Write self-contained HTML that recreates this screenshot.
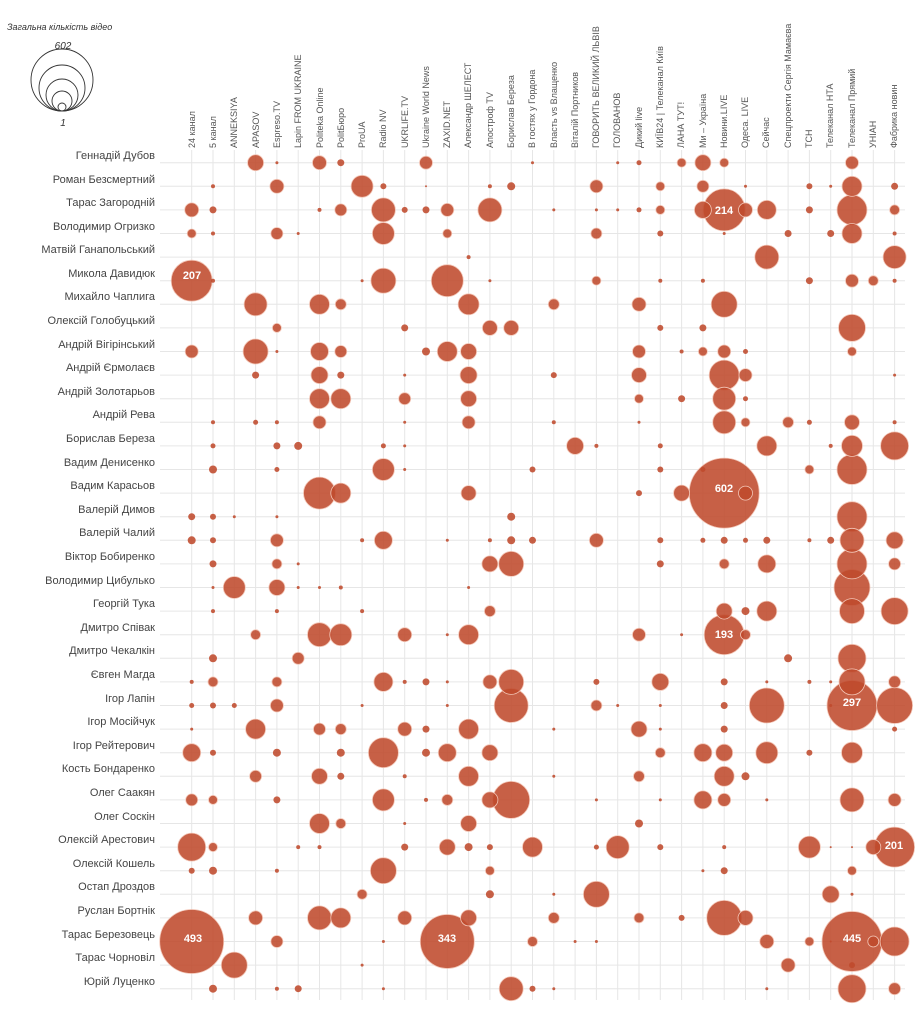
<!DOCTYPE html>
<html><head><meta charset="utf-8"><style>
html,body{margin:0;padding:0;background:#fff;}
svg{display:block;font-family:"Liberation Sans",sans-serif;}
.rl{font-size:11px;fill:#444;text-anchor:end;}
.cl{font-size:9px;fill:#555;}
.bl{font-size:11px;fill:#fff;text-anchor:middle;font-weight:bold;}
</style></head><body>
<svg id="s" width="919" height="1015" viewBox="0 0 919 1015" xmlns="http://www.w3.org/2000/svg">
<g id="grid" stroke="#e6e6e6" stroke-width="1"></g>
<text x="7" y="30" font-size="9" font-style="italic" fill="#333">Загальна кількість відео</text>
<g fill="none" stroke="#333" stroke-width="0.9">
<circle cx="62" cy="80" r="31"/><circle cx="62" cy="88" r="23"/><circle cx="62" cy="95" r="16"/><circle cx="62" cy="101" r="10"/><circle cx="62" cy="107" r="4"/>
</g>
<text x="63" y="49" font-size="10" font-style="italic" text-anchor="middle" fill="#333">602</text>
<text x="63" y="126" font-size="10" font-style="italic" text-anchor="middle" fill="#333">1</text>
<g id="cols"></g>
<g>
<text class="rl" x="155" y="159">Геннадій Дубов</text>
<text class="rl" x="155" y="183">Роман Безсмертний</text>
<text class="rl" x="155" y="206">Тарас Загородній</text>
<text class="rl" x="155" y="230">Володимир Огризко</text>
<text class="rl" x="155" y="253">Матвій Ганапольський</text>
<text class="rl" x="155" y="277">Микола Давидюк</text>
<text class="rl" x="155" y="300">Михайло Чаплига</text>
<text class="rl" x="155" y="324">Олексій Голобуцький</text>
<text class="rl" x="155" y="348">Андрій Вігірінський</text>
<text class="rl" x="155" y="371">Андрій Єрмолаєв</text>
<text class="rl" x="155" y="395">Андрій Золотарьов</text>
<text class="rl" x="155" y="418">Андрій Рева</text>
<text class="rl" x="155" y="442">Борислав Береза</text>
<text class="rl" x="155" y="466">Вадим Денисенко</text>
<text class="rl" x="155" y="489">Вадим Карасьов</text>
<text class="rl" x="155" y="513">Валерій Димов</text>
<text class="rl" x="155" y="536">Валерій Чалий</text>
<text class="rl" x="155" y="560">Віктор Бобиренко</text>
<text class="rl" x="155" y="584">Володимир Цибулько</text>
<text class="rl" x="155" y="607">Георгій Тука</text>
<text class="rl" x="155" y="631">Дмитро Співак</text>
<text class="rl" x="155" y="654">Дмитро Чекалкін</text>
<text class="rl" x="155" y="678">Євген Магда</text>
<text class="rl" x="155" y="702">Ігор Лапін</text>
<text class="rl" x="155" y="725">Ігор Мосійчук</text>
<text class="rl" x="155" y="749">Ігор Рейтерович</text>
<text class="rl" x="155" y="772">Кость Бондаренко</text>
<text class="rl" x="155" y="796">Олег Саакян</text>
<text class="rl" x="155" y="820">Олег Соскін</text>
<text class="rl" x="155" y="843">Олексій Арестович</text>
<text class="rl" x="155" y="867">Олексій Кошель</text>
<text class="rl" x="155" y="890">Остап Дроздов</text>
<text class="rl" x="155" y="914">Руслан Бортнік</text>
<text class="rl" x="155" y="938">Тарас Березовець</text>
<text class="rl" x="155" y="961">Тарас Чорновіл</text>
<text class="rl" x="155" y="985">Юрій Луценко</text>
</g>
<g>
<text class="cl" transform="translate(195,148) rotate(-90)">24 канал</text>
<text class="cl" transform="translate(216,148) rotate(-90)">5 канал</text>
<text class="cl" transform="translate(237,148) rotate(-90)">ANNEKSIYA</text>
<text class="cl" transform="translate(259,148) rotate(-90)">APASOV</text>
<text class="cl" transform="translate(280,148) rotate(-90)">Espreso.TV</text>
<text class="cl" transform="translate(301,148) rotate(-90)">Lapin FROM UKRAINE</text>
<text class="cl" transform="translate(323,148) rotate(-90)">Politeka Online</text>
<text class="cl" transform="translate(344,148) rotate(-90)">PolitБюро</text>
<text class="cl" transform="translate(365,148) rotate(-90)">ProUA</text>
<text class="cl" transform="translate(386,148) rotate(-90)">Radio NV</text>
<text class="cl" transform="translate(408,148) rotate(-90)">UKRLIFE.TV</text>
<text class="cl" transform="translate(429,148) rotate(-90)">Ukraine World News</text>
<text class="cl" transform="translate(450,148) rotate(-90)">ZAXID.NET</text>
<text class="cl" transform="translate(471,148) rotate(-90)">Александр ШЕЛЕСТ</text>
<text class="cl" transform="translate(493,148) rotate(-90)">Апостроф TV</text>
<text class="cl" transform="translate(514,148) rotate(-90)">Борислав Береза</text>
<text class="cl" transform="translate(535,148) rotate(-90)">В гостях у Гордона</text>
<text class="cl" transform="translate(557,148) rotate(-90)">Власть vs Влащенко</text>
<text class="cl" transform="translate(578,148) rotate(-90)">Віталій Портников</text>
<text class="cl" transform="translate(599,148) rotate(-90)">ГОВОРИТЬ ВЕЛИКИЙ ЛЬВІВ</text>
<text class="cl" transform="translate(620,148) rotate(-90)">ГОЛОВАНОВ</text>
<text class="cl" transform="translate(642,148) rotate(-90)">Дикий live</text>
<text class="cl" transform="translate(663,148) rotate(-90)">КИЇВ24 | Телеканал Київ</text>
<text class="cl" transform="translate(684,148) rotate(-90)">ЛАНА ТУТ!</text>
<text class="cl" transform="translate(706,148) rotate(-90)">Ми – Україна</text>
<text class="cl" transform="translate(727,148) rotate(-90)">Новини.LIVE</text>
<text class="cl" transform="translate(748,148) rotate(-90)">Одеса. LIVE</text>
<text class="cl" transform="translate(769,148) rotate(-90)">Сейчас</text>
<text class="cl" transform="translate(791,148) rotate(-90)">Спецпроекти Сергія Мамаєва</text>
<text class="cl" transform="translate(812,148) rotate(-90)">ТСН</text>
<text class="cl" transform="translate(833,148) rotate(-90)">Телеканал НТА</text>
<text class="cl" transform="translate(855,148) rotate(-90)">Телеканал Прямий</text>
<text class="cl" transform="translate(876,148) rotate(-90)">УНІАН</text>
<text class="cl" transform="translate(897,148) rotate(-90)">Фабрика новин</text>
</g>
<g id="bub"></g>
<g>
<text class="bl" x="192" y="279">207</text>
<text class="bl" x="724" y="214">214</text>
<text class="bl" x="724" y="492">602</text>
<text class="bl" x="724" y="638">193</text>
<text class="bl" x="852" y="706">297</text>
<text class="bl" x="894" y="849">201</text>
<text class="bl" x="193" y="942">493</text>
<text class="bl" x="447" y="942">343</text>
<text class="bl" x="852" y="942">445</text>
</g>
</svg>
<script>
var NS="http://www.w3.org/2000/svg";
function X(c){return 191.7+c*21.3;}function Y(r){return 162.7+r*23.6;}
var g=document.getElementById("grid");
for(var r=0;r<36;r++){var l=document.createElementNS(NS,"line");l.setAttribute("x1",160);l.setAttribute("x2",905);l.setAttribute("y1",Y(r));l.setAttribute("y2",Y(r));g.appendChild(l);}
for(var c=0;c<34;c++){var l=document.createElementNS(NS,"line");l.setAttribute("x1",X(c));l.setAttribute("x2",X(c));l.setAttribute("y1",150);l.setAttribute("y2",1000);g.appendChild(l);}
var D=[
"3:8,4:1.5,6:7,7:3.5,11:6.5,16:1.5,20:1.5,21:2.5,23:4.5,24:8,25:4.5,31:6.5",
"1:2,4:7,8:11,9:3,11:1,14:2,15:4,19:6.5,22:4.5,24:6,26:1.5,29:3,30:1.5,31:10,33:3.5",
"0:7,1:3.5,6:2,7:6,9:12,10:3,11:3.5,12:6.5,14:12,17:1.5,19:1.5,20:1.5,21:2.5,22:4.5,24:8.5,25:21,26:7,27:9.5,29:3.5,31:15,33:5",
"0:4.5,1:2,4:6,5:1.5,9:11,12:4.5,19:5.5,22:3,25:1.5,28:3.5,30:3.5,31:10,33:2",
"13:2,27:12,33:11.5",
"0:20.5,1:2,8:1.5,9:12.5,12:16,14:1.5,19:4.5,22:2,24:2,29:3.5,31:6.5,32:5,33:2",
"3:11.5,6:10,7:5.5,13:10.5,17:5.5,21:7,25:13",
"4:4.5,10:3.5,14:7.5,15:7.5,22:3,24:3.5,31:13.5",
"0:6.5,3:12.5,4:1.5,6:9,7:6,11:4,12:10,13:8,21:6.5,23:2,24:4.5,25:6.5,26:2.5,31:4.5",
"3:3.5,6:8.5,7:3.5,10:1.5,13:8.5,17:3,21:7.5,25:15,26:6.5,33:1.5",
"6:10,7:10,10:6,13:8,21:4.5,23:3.5,25:11.5,26:2.5",
"1:2,3:2.5,4:2,6:6.5,10:1.5,13:6.5,17:2,21:1.5,25:11.5,26:4.5,28:5.5,29:2.5,31:7.5,33:2",
"1:2.5,4:3.5,5:4,9:2.5,10:1.5,18:8.5,19:2,22:2.5,27:10,30:2,31:10.5,33:14",
"1:4,4:2.5,9:11,10:1.5,16:3,22:3,24:2.5,29:4.5,31:15",
"6:16,7:10,13:7.5,21:3,23:8,25:35,26:7",
"0:3.5,1:3,2:1.5,4:1.5,15:4,31:15",
"0:4,1:3,4:6.5,8:2,9:9,12:1.5,14:2,15:4,16:3.5,19:7,22:3,24:2.5,25:3.5,26:2.5,27:3.5,29:2,30:3.5,31:12,33:8.5",
"1:3.5,4:5,5:1.5,14:8,15:12.5,22:3.5,25:5,27:9,31:15,33:6",
"1:1.5,2:11,4:8,5:1.5,6:1.5,7:2,13:1.5,31:18",
"1:2,4:2,8:2,14:5.5,25:8,26:4,27:10,31:12.5,33:13.5",
"3:5,6:12,7:11,10:7,12:1.5,13:10,21:6.5,23:1.5,25:20,26:5",
"1:4,5:6,28:4,31:14",
"0:2,1:5,4:5,9:9.5,10:2,11:3.5,12:1.5,14:7,15:12.5,19:3,22:8.5,25:3.5,27:1.5,29:2,30:1.5,31:13,33:6",
"0:2.5,1:3,2:2.5,4:6.5,8:1.5,12:1.5,15:17,19:5.5,20:1.5,22:1.5,25:3.5,27:17.5,30:1.5,31:25,33:18",
"0:1.5,3:10,6:6,7:5.5,10:7,11:3.5,13:10,17:1.5,21:8,22:1.5,25:3.5,33:2.5",
"0:9,1:3,4:4,7:4,9:15,11:4,12:9,14:8,22:5,24:9,25:8.5,27:11,29:3,31:10.5",
"3:6,6:8,7:3.5,10:2,13:10,17:1.5,21:5.5,25:10,26:4",
"0:6,1:4.5,4:3.5,9:11,11:2,12:5.5,14:8,15:18.5,19:1.5,22:1.5,24:9,25:6.5,27:1.5,31:12,33:6.5",
"6:10,7:5,10:1.5,13:8,21:4",
"0:14,1:4.5,5:2,6:2,10:3.5,12:8,13:4,14:3,16:10,19:2.5,20:11.5,22:3,25:2,29:11,30:1,31:1,32:7.5,33:20",
"0:3,1:4,4:2,9:13,14:4.5,24:1.5,25:3.5,31:4.5",
"8:5,14:4,17:1.5,19:13,30:8.5,31:1.5",
"3:7,6:12,7:10,10:7,13:8,17:5.5,21:5,23:3,25:17.5,26:7.5",
"0:32,4:6,9:1.5,12:27,16:5,18:1.5,19:1.5,27:7,29:4.5,30:1,31:30,32:5.5,33:14.5",
"2:13,8:1.5,28:7,31:3",
"1:4,4:2,5:3.5,9:1.5,15:12,16:3,17:1.5,27:1.5,31:14,33:6"
];
var L=[];
D.forEach(function(s,r){s.split(",").forEach(function(p){var a=p.split(":");L.push([+a[0],r,+a[1]]);});});
L.sort(function(a,b){return b[2]-a[2];});
var B=document.getElementById("bub");
L.forEach(function(b){var c=document.createElementNS(NS,"circle");c.setAttribute("cx",X(b[0]));c.setAttribute("cy",Y(b[1]));c.setAttribute("r",b[2]);c.setAttribute("fill","#bf4a2c");c.setAttribute("fill-opacity","0.88");c.setAttribute("stroke","#f3c7b8");c.setAttribute("stroke-width",b[2]>4?"0.8":"0");B.appendChild(c);});
</script>
</body></html>
